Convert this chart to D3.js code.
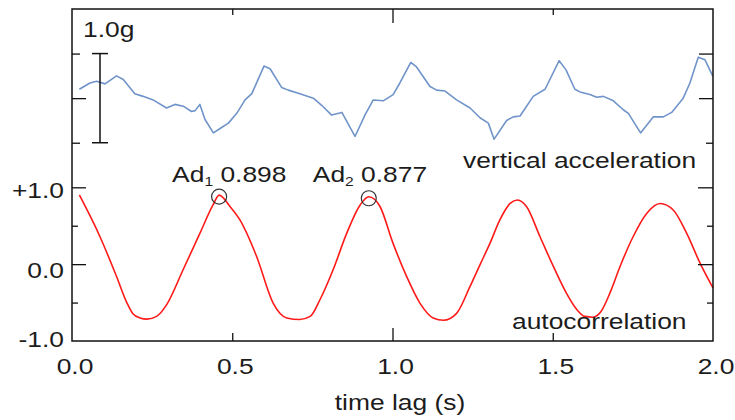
<!DOCTYPE html>
<html>
<head>
<meta charset="utf-8">
<script src="https://cdn.jsdelivr.net/npm/d3@7"></script>
<style>
  html, body { margin: 0; padding: 0; background: #fff; }
  svg { display: block; }
  text { font-family: "Liberation Sans", Arial, Helvetica, sans-serif; fill: #1c1c1c; }
</style>
</head>
<body>
<svg id="chart" width="735" height="420"></svg>
<script>
// Time lag (s) and autocorrelation coefficient
const autoT = [0.023, 0.087, 0.139, 0.171, 0.190, 0.212, 0.234, 0.264, 0.295, 0.347, 0.400, 0.440, 0.459, 0.493,
  0.524, 0.576, 0.628, 0.670, 0.711, 0.743, 0.774, 0.815, 0.857, 0.899, 0.926, 0.961,
  1.000, 1.044, 1.086, 1.127, 1.159, 1.200, 1.242, 1.275, 1.304, 1.335, 1.367, 1.390, 1.418,
  1.460, 1.502, 1.543, 1.575, 1.600, 1.625, 1.650, 1.679, 1.710, 1.751, 1.793, 1.835, 1.876,
  1.918, 1.960, 2.000];
const autoR = [0.90, 0.36, -0.16, -0.50, -0.645, -0.70, -0.715, -0.68, -0.53, -0.07, 0.41, 0.77, 0.898, 0.75,
  0.575, 0.10, -0.51, -0.70, -0.72, -0.68, -0.46, -0.07, 0.40, 0.77, 0.877, 0.75,
  0.29, -0.16, -0.51, -0.70, -0.73, -0.64, -0.29, 0.01, 0.27, 0.575, 0.79, 0.835, 0.75,
  0.36, -0.03, -0.38, -0.59, -0.68, -0.69, -0.62, -0.37, -0.03, 0.36, 0.66, 0.79, 0.705,
  0.40, 0.01, -0.31];

// Raw vertical acceleration trace (g, offset to the panel centre)
const accT = [0.023, 0.056, 0.077, 0.103, 0.139, 0.160, 0.196, 0.222, 0.253, 0.295, 0.321, 0.347, 0.373, 0.384,
  0.399, 0.415, 0.441, 0.462, 0.488, 0.514, 0.540, 0.561, 0.599, 0.618, 0.654, 0.675, 0.711, 0.753,
  0.779, 0.810, 0.842, 0.883, 0.914, 0.940, 0.971, 1.002, 1.023, 1.057, 1.075, 1.117, 1.138, 1.164,
  1.200, 1.242, 1.273, 1.299, 1.317, 1.356, 1.377, 1.398, 1.439, 1.476, 1.520, 1.541, 1.569, 1.585,
  1.616, 1.637, 1.658, 1.689, 1.720, 1.736, 1.774, 1.814, 1.845, 1.871, 1.907, 1.928, 1.954, 1.975, 1.999];
const accG = [0.10, 0.17, 0.19, 0.16, 0.25, 0.21, 0.05, 0.02, -0.02, -0.11, -0.07, -0.09, -0.15, -0.14,
  -0.07, -0.24, -0.39, -0.34, -0.28, -0.17, -0.02, 0.05, 0.36, 0.33, 0.12, 0.09, 0.05, 0.00,
  -0.08, -0.19, -0.16, -0.43, -0.19, -0.02, -0.03, 0.04, 0.17, 0.40, 0.35, 0.13, 0.09, 0.08,
  -0.02, -0.11, -0.22, -0.28, -0.46, -0.25, -0.21, -0.20, 0.02, 0.10, 0.42, 0.32, 0.10, 0.07,
  0.04, 0.01, 0.02, -0.03, -0.13, -0.17, -0.39, -0.21, -0.21, -0.16, 0.00, 0.17, 0.46, 0.43, 0.25];

// Marked autocorrelation peaks
const peakNames = ["1", "2"];
const peakT = [0.459, 0.926];
const peakR = [0.898, 0.877];

const xTicks = [0, 0.5, 1.0, 1.5, 2.0];
const xTickLabels = ["0.0", "0.5", "1.0", "1.5", "2.0"];
const rTicks = [1.0, 0.0, -1.0];
const rTickLabels = ["+1.0", "0.0", "-1.0"];

const svg = d3.select("#chart");
const L = 72, R = 713, T = 9, B = 341;
const SX = 1.2; // horizontal text stretch

const x = d3.scaleLinear().domain([0, 2]).range([L, R]);
const yR = d3.scaleLinear().domain([-1, 1]).range([B, 187.3]);
const yA = d3.scaleLinear().domain([-1, 1]).range([187.3, T]);

function label(sel, txt, px, py, anchor, size) {
  return sel.append("text")
    .attr("transform", `translate(${px},${py}) scale(${SX},1)`)
    .attr("text-anchor", anchor)
    .style("font-size", (size || 22) + "px")
    .text(txt);
}

// Curves
const autoData = autoT.map((t, i) => [t, autoR[i]]);
const accData = accT.map((t, i) => [t, accG[i]]);

svg.append("path")
  .datum(accData)
  .attr("fill", "none")
  .attr("stroke", "#7094c9")
  .attr("stroke-width", 1.6)
  .attr("stroke-linejoin", "round")
  .attr("d", d3.line().x(d => x(d[0])).y(d => yA(d[1])));

svg.append("path")
  .datum(autoData)
  .attr("fill", "none")
  .attr("stroke", "#ff1a1a")
  .attr("stroke-width", 1.6)
  .attr("d", d3.line().curve(d3.curveMonotoneX).x(d => x(d[0])).y(d => yR(d[1])));

// Ticks (inward) via d3 axes
function ticks(axis, transform) {
  const g = svg.append("g").attr("transform", transform).call(axis);
  g.select(".domain").remove();
  g.selectAll("line").attr("stroke", "#111").attr("stroke-width", 1.3);
  g.selectAll("text").remove();
  return g;
}
ticks(d3.axisBottom(x).tickValues([1.0]).tickSize(-13), `translate(0,${B})`);
ticks(d3.axisBottom(x).tickValues([0.5, 1.5]).tickSize(-8), `translate(0,${B})`);
ticks(d3.axisTop(x).tickValues([1.0]).tickSize(-14), `translate(0,${T})`);
ticks(d3.axisTop(x).tickValues([0.5, 1.5]).tickSize(-6), `translate(0,${T})`);

ticks(d3.axisLeft(yR).tickValues([1.0, 0.0]).tickSize(-14), `translate(${L},0)`);
ticks(d3.axisLeft(yR).tickValues([0.5, -0.5]).tickSize(-6), `translate(${L},0)`);
ticks(d3.axisRight(yR).tickValues([1.0, 0.0]).tickSize(-15), `translate(${R},0)`);
ticks(d3.axisRight(yR).tickValues([0.5, -0.5]).tickSize(-6), `translate(${R},0)`);

ticks(d3.axisLeft(yA).tickValues([0.0]).tickSize(-14), `translate(${L},0)`);
ticks(d3.axisLeft(yA).tickValues([0.5, -0.5]).tickSize(-8), `translate(${L},0)`);
ticks(d3.axisRight(yA).tickValues([0.5, 0.0]).tickSize(-14), `translate(${R},0)`);
ticks(d3.axisRight(yA).tickValues([-0.5]).tickSize(-7), `translate(${R},0)`);

// Frame
svg.append("rect")
  .attr("x", L).attr("y", T).attr("width", R - L).attr("height", B - T)
  .attr("fill", "none").attr("stroke", "#111").attr("stroke-width", 1.5);

// Tick labels
xTicks.forEach((v, i) => label(svg, xTickLabels[i], x(v) + 3, 374, "middle"));
const rLabelShift = { "1": 11, "0": 13.5, "-1": 6 };
rTicks.forEach((v, i) => label(svg, rTickLabels[i], 64, yR(v) + rLabelShift[String(v)], "end"));

// Axis title
label(svg, "time lag (s)", 400, 410, "middle");

// 1.0 g scale bar
const barX = 100;
const bar = svg.append("g").attr("stroke", "#111").attr("stroke-width", 1.5);
bar.append("line").attr("x1", barX).attr("x2", barX).attr("y1", yA(0.5)).attr("y2", yA(-0.5));
[0.5, -0.5].forEach(v => bar.append("line")
  .attr("x1", barX - 8).attr("x2", barX + 8).attr("y1", yA(v)).attr("y2", yA(v)));
label(svg, "1.0g", 83, 37, "start");

// Series names
label(svg, "vertical acceleration", 463, 168, "start");
label(svg, "autocorrelation", 512, 329, "start");

// Peak markers and their values
const labelOffsets = [-47, -56];
peakT.forEach((t, i) => {
  const cx = x(t), cy = yR(peakR[i]) + 1.5;
  svg.append("circle").attr("cx", cx).attr("cy", cy).attr("r", 7.5)
    .attr("fill", "none").attr("stroke", "#333").attr("stroke-width", 1.2);
  const tx = svg.append("text")
    .attr("transform", `translate(${cx + labelOffsets[i]},182) scale(${SX},1)`)
    .style("font-size", "22px");
  tx.append("tspan").text("Ad");
  tx.append("tspan").attr("dy", 4).style("font-size", "13px").text(peakNames[i]);
  tx.append("tspan").attr("dy", -4).text(" " + d3.format(".3f")(peakR[i]));
});
</script>
</body>
</html>
